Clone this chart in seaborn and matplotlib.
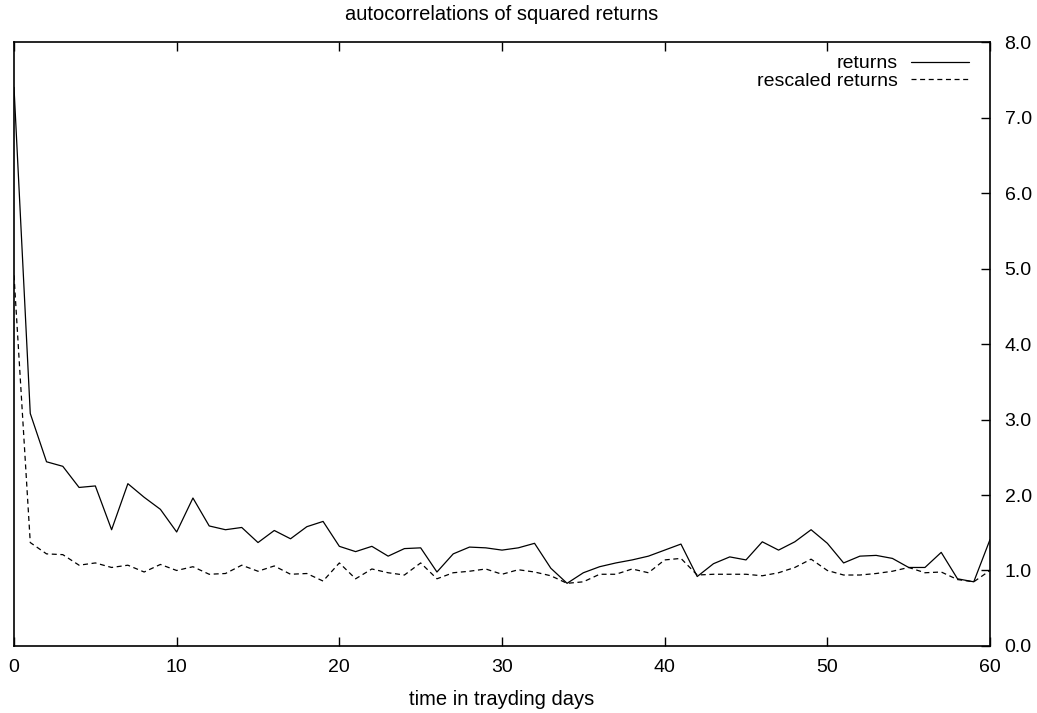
import numpy as np
import pandas as pd
from matplotlib import pyplot as plt
import seaborn as sns

# values
lags = list(range(61))
returns = [7.40, 3.08, 2.44, 2.38, 2.10, 2.12, 1.54, 2.15, 1.97, 1.81,
           1.51, 1.96, 1.59, 1.54, 1.57, 1.37, 1.53, 1.42, 1.58, 1.65,
           1.32, 1.25, 1.32, 1.19, 1.29, 1.30, 0.98, 1.22, 1.31, 1.30,
           1.27, 1.30, 1.36, 1.03, 0.83, 0.97, 1.05, 1.10, 1.14, 1.19,
           1.27, 1.35, 0.92, 1.09, 1.18, 1.14, 1.38, 1.27, 1.38, 1.54,
           1.36, 1.10, 1.19, 1.20, 1.16, 1.04, 1.04, 1.24, 0.89, 0.85,
           1.41]
rescaled = [4.91, 1.37, 1.22, 1.21, 1.07, 1.10, 1.04, 1.07, 0.98, 1.08,
            1.00, 1.05, 0.95, 0.96, 1.07, 0.99, 1.06, 0.95, 0.96, 0.86,
            1.10, 0.89, 1.02, 0.97, 0.94, 1.10, 0.89, 0.97, 0.99, 1.02,
            0.95, 1.01, 0.98, 0.93, 0.83, 0.85, 0.95, 0.95, 1.02, 0.97,
            1.14, 1.16, 0.94, 0.95, 0.95, 0.95, 0.93, 0.97, 1.04, 1.15,
            1.00, 0.94, 0.94, 0.96, 0.99, 1.04, 0.97, 0.98, 0.88, 0.85,
            1.00]
x_ticks = [0, 10, 20, 30, 40, 50, 60]
y_ticks = [0, 1, 2, 3, 4, 5, 6, 7, 8]

sns.set_style('white')
plt.rcParams['font.family'] = ['Liberation Sans', 'DejaVu Sans']
plt.rcParams['lines.scale_dashes'] = False
plt.rcParams['text.color'] = 'black'
plt.rcParams['axes.labelcolor'] = 'black'
plt.rcParams['xtick.color'] = 'black'
plt.rcParams['ytick.color'] = 'black'

df = pd.DataFrame({'lag': lags, 'returns': returns, 'rescaled returns': rescaled})

fig = plt.figure(figsize=(10.37, 7.13), dpi=100)
ax = fig.add_axes([0.0135, 0.094, 0.9412, 0.847])

sns.lineplot(x='lag', y='returns', data=df, ax=ax, color='black', lw=0.9,
             label='returns')
sns.lineplot(x='lag', y='rescaled returns', data=df, ax=ax, color='black',
             lw=0.9, dashes=(3.6, 2.6), label='rescaled returns')

ax.set_xlim(0, 60)
ax.set_ylim(0, 8)
ax.set_xticks(x_ticks)
ax.set_yticks(y_ticks)
ax.set_yticklabels([f'{v:.1f}' for v in y_ticks])

ax.yaxis.tick_right()
ax.tick_params(axis='y', which='both', direction='in', length=6.5, width=1,
               left=False, right=True, labelleft=False, labelright=True,
               labelsize=14, pad=10.5)
ax.tick_params(axis='x', direction='in', length=6.5, width=1, top=True,
               bottom=True, labelsize=14, pad=9.5)

for spine in ax.spines.values():
    spine.set_color('black')
    spine.set_linewidth(1.2)

ax.set_title('autocorrelations of squared returns', fontsize=14.5, pad=16)
ax.set_xlabel('time in trayding days', fontsize=14.5, labelpad=10)
ax.set_ylabel('')

ax.legend(loc='upper right', bbox_to_anchor=(0.9918, 1.0), frameon=False,
          markerfirst=False, fontsize=14, handlelength=3.0,
          handletextpad=0.67, labelspacing=0.0, borderaxespad=0.25,
          borderpad=0.4)

plt.savefig('out.png', dpi=100)
plt.close()
